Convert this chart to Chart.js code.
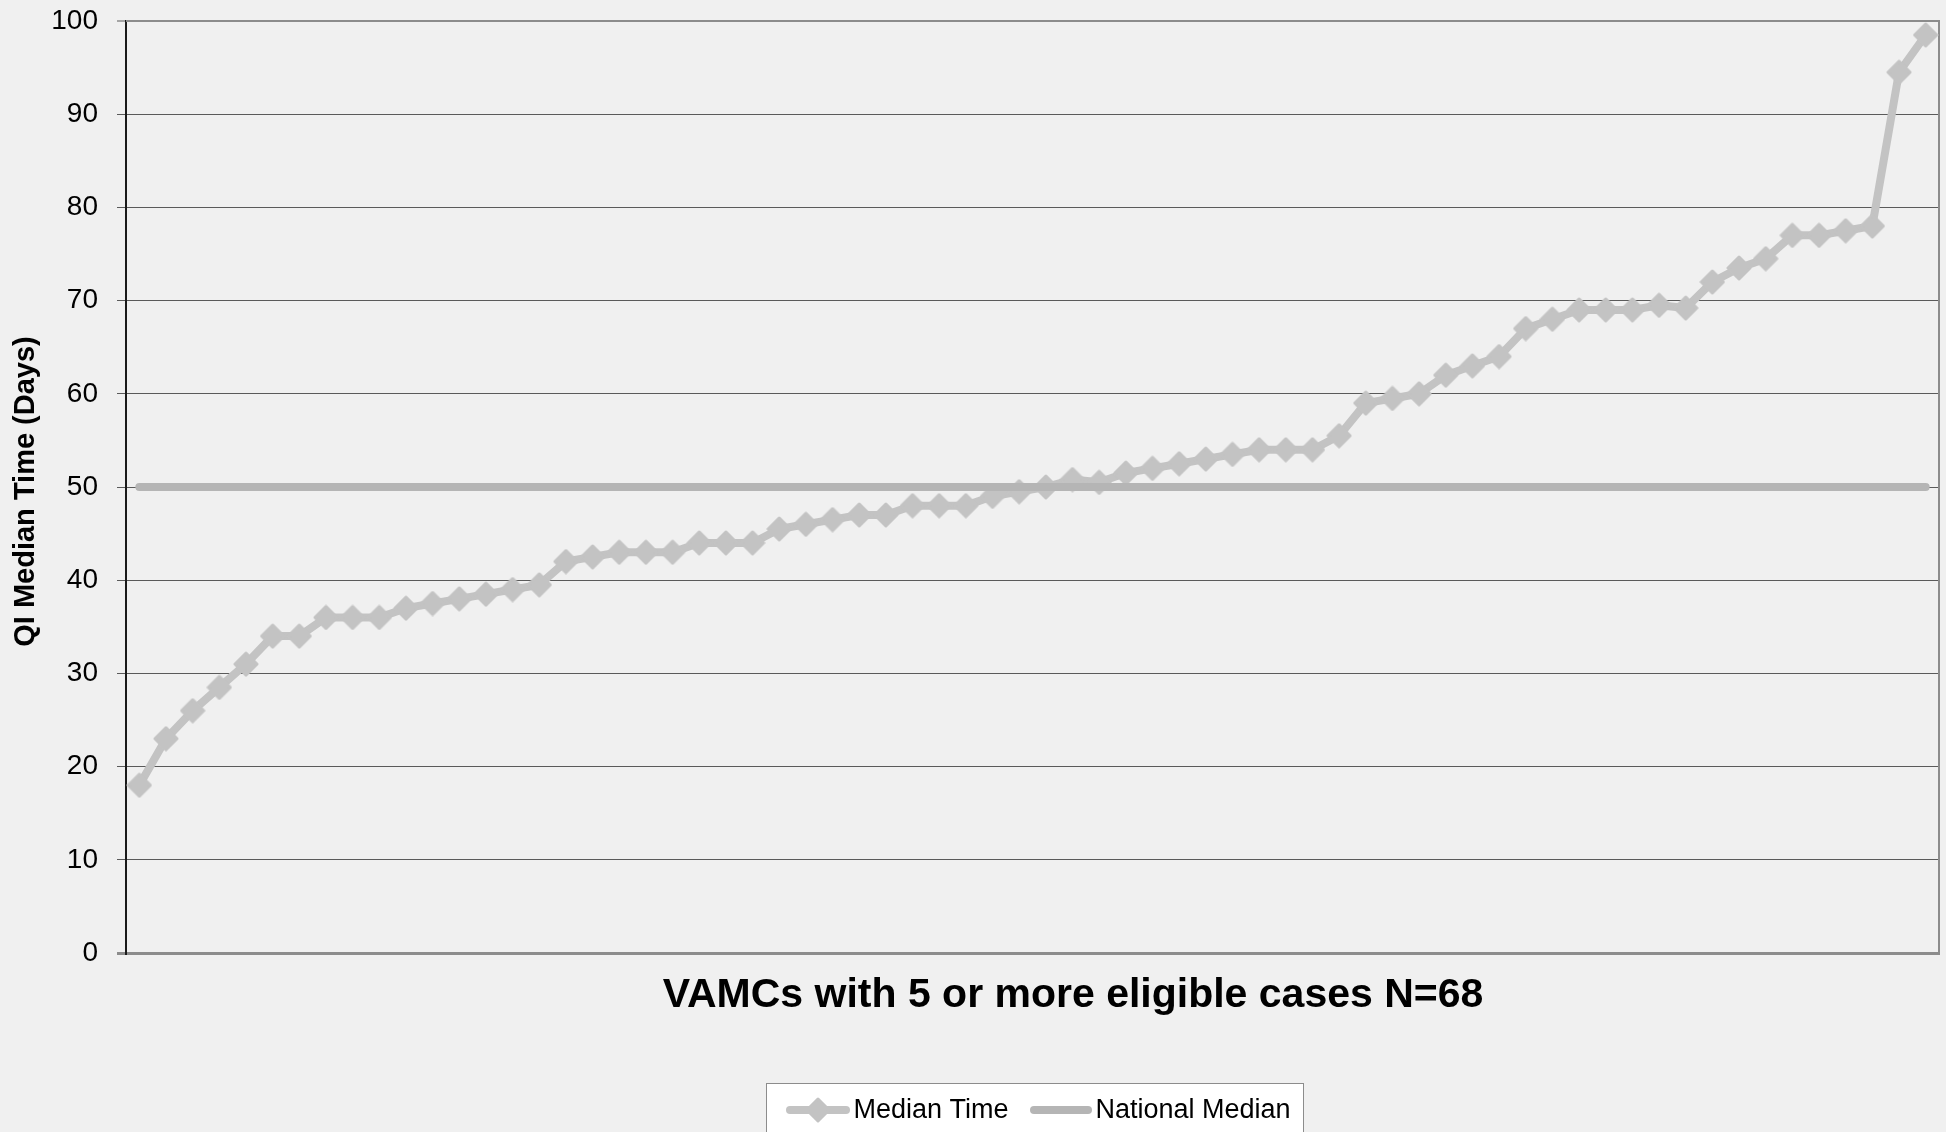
<!DOCTYPE html>
<html>
<head>
<meta charset="utf-8">
<title>QI Median Time by VAMC</title>
<script src="https://cdn.jsdelivr.net/npm/chart.js@4.4.1/dist/chart.umd.min.js"></script>
<style>
  html, body { margin: 0; padding: 0; background: #f0f0f0; overflow: hidden; }
  #wrap { width: 1946px; height: 1132px; position: relative; }
</style>
</head>
<body>
<div id="wrap"><canvas id="chart"></canvas></div>
<script>
// Facilities (VAMCs), ranked by median time
const facilities = [1, 2, 3, 4, 5, 6, 7, 8, 9, 10, 11, 12, 13, 14, 15, 16, 17, 18, 19, 20,
  21, 22, 23, 24, 25, 26, 27, 28, 29, 30, 31, 32, 33, 34, 35, 36, 37, 38, 39, 40,
  41, 42, 43, 44, 45, 46, 47, 48, 49, 50, 51, 52, 53, 54, 55, 56, 57, 58, 59, 60,
  61, 62, 63, 64, 65, 66, 67, 68];

// Median time in days for each facility
const medianTime = [18, 23, 26, 28.5, 31, 34, 34, 36, 36, 36,
  37, 37.5, 38, 38.5, 39, 39.5, 42, 42.5, 43, 43,
  43, 44, 44, 44, 45.5, 46, 46.5, 47, 47, 48,
  48, 48, 49, 49.5, 50, 50.8, 50.5, 51.5, 52, 52.5,
  53, 53.5, 54, 54, 54, 55.5, 59, 59.5, 60, 62,
  63, 64, 67, 68, 69, 69, 69, 69.5, 69.2, 72,
  73.5, 74.5, 77, 77, 77.5, 78, 94.5, 98.5];

// National median reference line
const nationalMedian = [50, 50, 50, 50, 50, 50, 50, 50, 50, 50,
  50, 50, 50, 50, 50, 50, 50, 50, 50, 50,
  50, 50, 50, 50, 50, 50, 50, 50, 50, 50,
  50, 50, 50, 50, 50, 50, 50, 50, 50, 50,
  50, 50, 50, 50, 50, 50, 50, 50, 50, 50,
  50, 50, 50, 50, 50, 50, 50, 50, 50, 50,
  50, 50, 50, 50, 50, 50, 50, 50];

const yTicks = [0, 10, 20, 30, 40, 50, 60, 70, 80, 90, 100];
const seriesNames = ['Median Time', 'National Median'];
const xTitle = 'VAMCs with 5 or more eligible cases N=68';
const yTitle = 'QI Median Time (Days)';

const FONT = "'Liberation Sans', Arial, Helvetica, sans-serif";
const BG = '#f0f0f0';
const MEDIAN_COLOR = '#c3c3c3';
const NATIONAL_COLOR = '#b5b5b5';
const FRAME_COLOR = '#8c8c8c';
const GRID_COLOR = '#5a5a5a';

// Diamond marker with softened corners
function makeDiamond(size, color) {
  const c = document.createElement('canvas');
  c.width = size; c.height = size;
  const g = c.getContext('2d');
  const h = size / 2, r = h - 2;
  g.beginPath();
  g.moveTo(h, h - r); g.lineTo(h + r, h); g.lineTo(h, h + r); g.lineTo(h - r, h);
  g.closePath();
  g.fillStyle = color; g.strokeStyle = color;
  g.lineWidth = 3; g.lineJoin = 'round';
  g.fill(); g.stroke();
  return c;
}
const marker = makeDiamond(26, MEDIAN_COLOR);

const framePlugin = {
  id: 'frame',
  beforeDraw(chart) {
    const ctx = chart.ctx;
    ctx.save();
    ctx.fillStyle = BG;
    ctx.fillRect(0, 0, chart.width, chart.height);
    ctx.restore();
  },
  beforeDatasetsDraw(chart) {
    const { ctx, chartArea: a } = chart;
    ctx.save();
    ctx.strokeStyle = FRAME_COLOR;
    ctx.lineWidth = 2;
    ctx.beginPath();
    ctx.moveTo(a.left, a.top);
    ctx.lineTo(a.right, a.top);
    ctx.lineTo(a.right, a.bottom);
    ctx.stroke();
    ctx.restore();
  },
  afterDraw(chart) {
    const ctx = chart.ctx;
    ctx.save();
    ctx.fillStyle = '#000';

    // vertical axis title
    ctx.save();
    ctx.translate(34, 491.5);
    ctx.rotate(-Math.PI / 2);
    ctx.font = 'bold 29px ' + FONT;
    ctx.textAlign = 'center';
    ctx.textBaseline = 'alphabetic';
    ctx.fillText(yTitle, 0, 0);
    ctx.restore();

    // horizontal axis title
    ctx.font = 'bold 41px ' + FONT;
    ctx.textAlign = 'center';
    ctx.textBaseline = 'alphabetic';
    ctx.fillText(xTitle, 1073, 1007);

    // legend box
    ctx.fillStyle = '#ffffff';
    ctx.fillRect(766.5, 1083.5, 537, 60);
    ctx.strokeStyle = FRAME_COLOR;
    ctx.lineWidth = 1;
    ctx.strokeRect(766.5, 1083.5, 537, 60);

    const ly = 1110;
    ctx.lineCap = 'round';
    ctx.lineWidth = 8;
    ctx.strokeStyle = MEDIAN_COLOR;
    ctx.beginPath(); ctx.moveTo(790, ly); ctx.lineTo(846, ly); ctx.stroke();
    ctx.drawImage(marker, 818 - marker.width / 2, ly - marker.height / 2);
    ctx.strokeStyle = NATIONAL_COLOR;
    ctx.beginPath(); ctx.moveTo(1034, ly); ctx.lineTo(1088, ly); ctx.stroke();

    ctx.fillStyle = '#000';
    ctx.font = '27px ' + FONT;
    ctx.textAlign = 'left';
    ctx.fillText(seriesNames[0], 853.5, 1118);
    ctx.fillText(seriesNames[1], 1095.5, 1118);
    ctx.restore();
  }
};

Chart.defaults.font.family = FONT;

new Chart(document.getElementById('chart'), {
  type: 'line',
  data: {
    labels: facilities,
    datasets: [
      {
        label: seriesNames[0],
        data: medianTime,
        borderColor: MEDIAN_COLOR,
        backgroundColor: MEDIAN_COLOR,
        borderWidth: 8,
        borderJoinStyle: 'round',
        borderCapStyle: 'round',
        // image markers are drawn at their own size; keep the radius small
        pointStyle: marker,
        pointRadius: 1,
        pointHoverRadius: 1,
        pointBorderWidth: 0,
        tension: 0,
        clip: false,
        order: 1
      },
      {
        label: seriesNames[1],
        data: nationalMedian,
        borderColor: NATIONAL_COLOR,
        backgroundColor: NATIONAL_COLOR,
        borderWidth: 8,
        borderCapStyle: 'round',
        pointRadius: 0,
        pointHoverRadius: 0,
        tension: 0,
        order: 0
      }
    ]
  },
  options: {
    responsive: true,
    maintainAspectRatio: false,
    animation: false,
    events: [],
    layout: { padding: { left: 0, top: 21, right: 7, bottom: 0 } },
    plugins: { legend: { display: false }, tooltip: { enabled: false }, title: { display: false } },
    scales: {
      x: {
        type: 'category',
        offset: true,
        grid: { display: false },
        ticks: { display: false },
        border: { display: true, color: FRAME_COLOR, width: 3 },
        afterFit(s) {
          s.height = 179;
          s.paddingLeft = 0; s.paddingRight = 0;
          s.paddingTop = 0; s.paddingBottom = 0;
        }
      },
      y: {
        min: 0,
        max: 100,
        afterBuildTicks(s) { s.ticks = yTicks.map(v => ({ value: v })); },
        ticks: {
          color: '#000',
          font: { family: FONT, size: 28 },
          padding: 19,
          callback: v => String(v)
        },
        grid: {
          color: c => (c.tick && (c.tick.value === 100 || c.tick.value === 0)) ? FRAME_COLOR : GRID_COLOR,
          lineWidth: c => (c.tick && c.tick.value === 100) ? 2 : (c.tick && c.tick.value === 0 ? 3 : 1),
          tickColor: c => (c.tick && c.tick.value === 0) ? FRAME_COLOR : GRID_COLOR,
          tickWidth: c => (c.tick && c.tick.value === 0) ? 3 : 1,
          tickLength: 9,
          drawTicks: true
        },
        border: { display: true, color: '#1a1a1a', width: 2 },
        afterFit(s) {
          s.width = 126;
          s.paddingTop = 0; s.paddingBottom = 0;
          s.paddingLeft = 0; s.paddingRight = 0;
        }
      }
    }
  },
  plugins: [framePlugin]
});
</script>
</body>
</html>
